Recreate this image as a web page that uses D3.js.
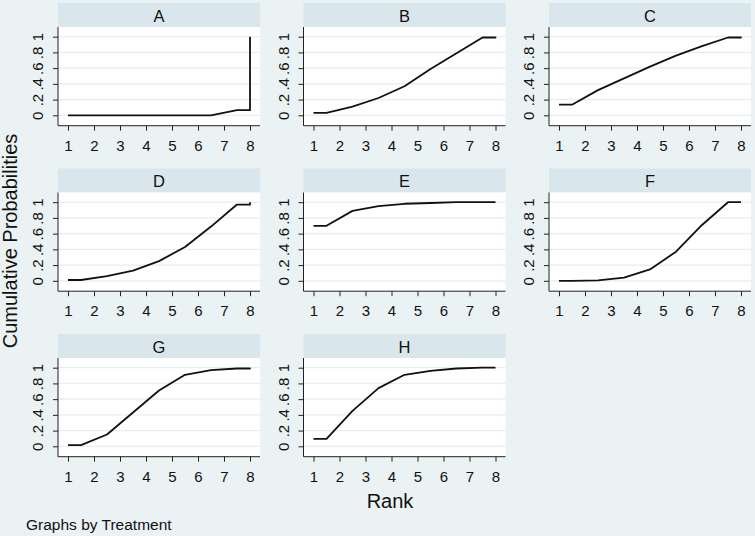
<!DOCTYPE html>
<html>
<head>
<meta charset="utf-8">
<script src="https://cdn.jsdelivr.net/npm/d3@7"></script>
<style>
  html, body { margin: 0; padding: 0; background: #EAF2F3; }
  svg { display: block; }
  text { font-family: "Liberation Sans", Arial, sans-serif; fill: #111; }
</style>
</head>
<body>
<svg id="chart" width="755" height="536"></svg>
<script>
// ---- data ----
const treatments = ["A", "B", "C", "D", "E", "F", "G", "H"];
const ranks = [1, 2, 3, 4, 5, 6, 7, 8];
const yTicks = [0, 0.2, 0.4, 0.6, 0.8, 1];
const yTickLabels = ["0", ".2", ".4", ".6", ".8", "1"];
const cumA = [0, 0, 0, 0, 0, 0, 0.065, 1];
const cumB = [0.03, 0.11, 0.22, 0.37, 0.59, 0.79, 0.99, 1];
const cumC = [0.135, 0.32, 0.47, 0.62, 0.76, 0.88, 0.99, 1];
const cumD = [0.01, 0.06, 0.13, 0.25, 0.43, 0.69, 0.97, 1];
const cumE = [0.70, 0.89, 0.95, 0.98, 0.99, 1, 1, 1];
const cumF = [0, 0.005, 0.04, 0.145, 0.37, 0.71, 1, 1];
const cumG = [0.015, 0.15, 0.43, 0.71, 0.91, 0.97, 0.99, 1];
const cumH = [0.095, 0.45, 0.74, 0.91, 0.96, 0.99, 1, 1];
const series = [cumA, cumB, cumC, cumD, cumE, cumF, cumG, cumH];

// ---- layout ----
const svg = d3.select("#chart");
const colLeft = [58, 303.5, 549];
const rowTop = [3, 168.5, 334];
const panelW = 202, headerH = 24;

svg.append("rect").attr("width", 755).attr("height", 536).attr("fill", "#EAF2F3");

treatments.forEach((t, i) => {
  const col = i % 3, row = Math.floor(i / 3);
  const left = colLeft[col], top = rowTop[row];
  const g = svg.append("g").attr("transform", `translate(${left},${top})`);

  // header
  g.append("rect").attr("x", 0).attr("y", 0).attr("width", panelW).attr("height", headerH)
    .attr("fill", "#D9E6EB");
  g.append("text").attr("x", panelW / 2).attr("y", 18.5).attr("text-anchor", "middle")
    .attr("font-size", 16.5).text(t);

  // plot area
  const plotBottom = 122.7;
  g.append("rect").attr("x", 0).attr("y", headerH).attr("width", panelW)
    .attr("height", plotBottom - headerH).attr("fill", "#ffffff");

  const x = d3.scaleLinear().domain([1, 8]).range([10, 192]);
  const y = d3.scaleLinear().domain([0, 1]).range([112.3, 33.7]);

  // grid
  g.append("g").selectAll("line").data(yTicks).join("line")
    .attr("x1", 0).attr("x2", panelW)
    .attr("y1", d => y(d)).attr("y2", d => y(d))
    .attr("stroke", "#E6EEF1").attr("stroke-width", 1.2);

  // x axis
  const xa = g.append("g").attr("transform", `translate(0,${plotBottom})`)
    .call(d3.axisBottom(x).tickValues(ranks).tickFormat(d3.format("d")).tickSize(5).tickPadding(9.5).tickSizeOuter(0));
  xa.select(".domain").attr("stroke", "#222").attr("d", `M0,0H${panelW}`);
  xa.selectAll(".tick line").attr("stroke", "#222");
  xa.selectAll(".tick text").attr("font-size", 15).attr("fill", "#111")
    .attr("font-family", "Liberation Sans, Arial, sans-serif");

  // y axis
  const ya = g.append("g")
    .call(d3.axisLeft(y).tickValues(yTicks).tickFormat((d, j) => yTickLabels[j]).tickSize(5).tickSizeOuter(0));
  ya.select(".domain").attr("stroke", "#222").attr("d", `M0,${headerH}V${plotBottom}`);
  ya.selectAll(".tick line").attr("stroke", "#222");
  ya.selectAll(".tick text")
    .attr("font-size", 15).attr("fill", "#111")
    .attr("font-family", "Liberation Sans, Arial, sans-serif")
    .attr("x", 0).attr("dy", 0).attr("text-anchor", "middle")
    .attr("transform", "translate(-14.7,0) rotate(-90)");

  // line: (1,c1), (k+0.5,ck) for k=1..7, (8,c7), (8,c8)
  const vals = series[i];
  const pts = [[ranks[0], vals[0]]];
  for (let k = 0; k < 7; k++) pts.push([ranks[k] + 0.5, vals[k]]);
  pts.push([ranks[7], vals[6]]);
  pts.push([ranks[7], vals[7]]);
  g.append("path").datum(pts)
    .attr("d", d3.line().x(d => x(d[0])).y(d => y(d[1])))
    .attr("fill", "none").attr("stroke", "#111").attr("stroke-width", 1.8)
    .attr("stroke-linejoin", "round");
});

// axis titles
svg.append("text").attr("x", 390).attr("y", 508).attr("text-anchor", "middle")
  .attr("font-size", 20).text("Rank");
svg.append("text").attr("transform", "translate(17,241) rotate(-90)")
  .attr("text-anchor", "middle").attr("font-size", 20).text("Cumulative Probabilities");
svg.append("text").attr("x", 26).attr("y", 530).attr("font-size", 15.5)
  .text("Graphs by Treatment");
</script>
</body>
</html>
